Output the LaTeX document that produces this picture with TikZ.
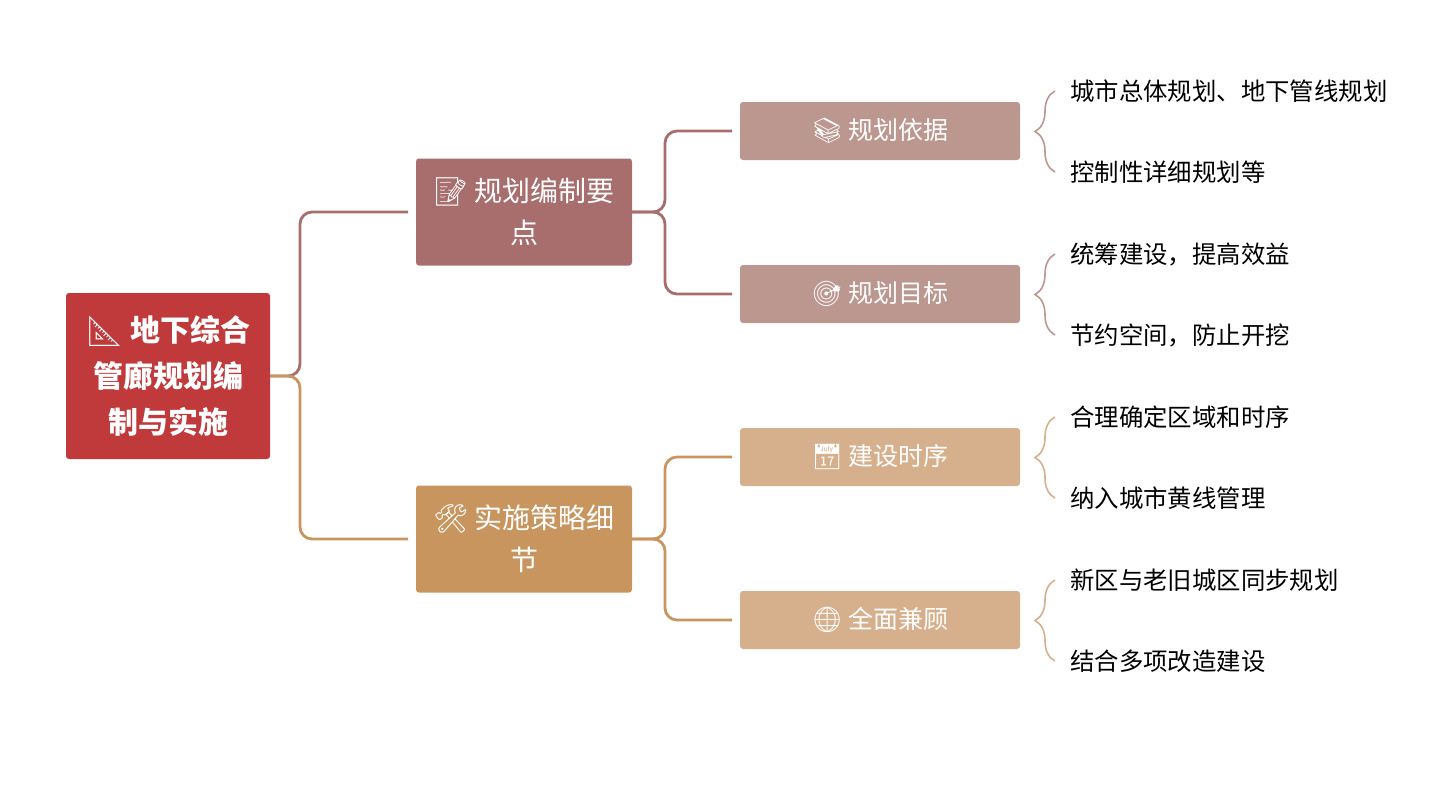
\documentclass[tikz,border=0pt]{standalone}
\usepackage{fontspec}
\setmainfont{Noto Sans CJK SC}
\newfontfamily\emo{Noto Emoji}
\usetikzlibrary{decorations.pathreplacing}
\definecolor{cRoot}{HTML}{C0393B}
\definecolor{cA}{HTML}{A86E6E}
\definecolor{cB}{HTML}{C8955E}
\definecolor{cA2}{HTML}{BC9790}
\definecolor{cB2}{HTML}{D6B08C}
\begin{document}
\begin{tikzpicture}[x=1pt,y=-1pt,
 box/.style={rounded corners=3pt,text=white,align=center,inner sep=0pt},
 leaf/.style={anchor=west,font=\fontsize{24.4}{28}\selectfont,inner sep=0pt},
 link/.style={line width=2.8pt,rounded corners=12pt},
 br/.style={line width=1.6pt,decorate,decoration={brace,amplitude=20pt}}]
\useasboundingbox (0,0) rectangle (1455,800);
\node[box,fill=cRoot,minimum width=204pt,minimum height=166pt,font=\fontsize{30}{46}\selectfont\bfseries] (r) at (168,376) {{\emo 📐} 地下综合\\管廊规划编\\制与实施};
\node[box,fill=cA,minimum width=216pt,minimum height=107pt,font=\fontsize{28}{42}\selectfont] (a) at (524,212) {{\emo 📝} 规划编制要\\点};
\node[box,fill=cB,minimum width=216pt,minimum height=107pt,font=\fontsize{28}{42}\selectfont] (b) at (524,539) {{\emo 🛠} 实施策略细\\节};
\foreach \n/\y/\c/\t in {a1/131/cA2/{{\emo 📚} 规划依据},a2/294/cA2/{{\emo 🎯} 规划目标},b1/457/cB2/{{\emo 📅} 建设时序},b2/620/cB2/{{\emo 🌐} 全面兼顾}}
  \node[box,fill=\c,minimum width=280pt,minimum height=58pt,font=\fontsize{25}{30}\selectfont] (\n) at (880,\y) {\t};
\draw[link,cA] (r.east) -- (300,376) -- (300,212) -- (408,212);
\draw[link,cB] (r.east) -- (300,376) -- (300,539) -- (408,539);
\draw[link,cA] (a.east) -- (665,212) -- (665,131) -- (732,131);
\draw[link,cA] (a.east) -- (665,212) -- (665,294) -- (732,294);
\draw[link,cB] (b.east) -- (665,539) -- (665,457) -- (732,457);
\draw[link,cB] (b.east) -- (665,539) -- (665,620) -- (732,620);
\foreach \n/\y/\c/\p/\q in {a1/131/cA2/城市总体规划、地下管线规划/控制性详细规划等,a2/294/cA2/统筹建设，提高效益/节约空间，防止开挖,b1/457/cB2/合理确定区域和时序/纳入城市黄线管理,b2/620/cB2/新区与老旧城区同步规划/结合多项改造建设}{
  \node[leaf] (\n p) at (1070,\y-40) {\p};
  \node[leaf] (\n q) at (1070,\y+41) {\q};
  \draw[br,\c] (1055,\y+41) -- (1055,\y-40);
}
\end{tikzpicture}
\end{document}
